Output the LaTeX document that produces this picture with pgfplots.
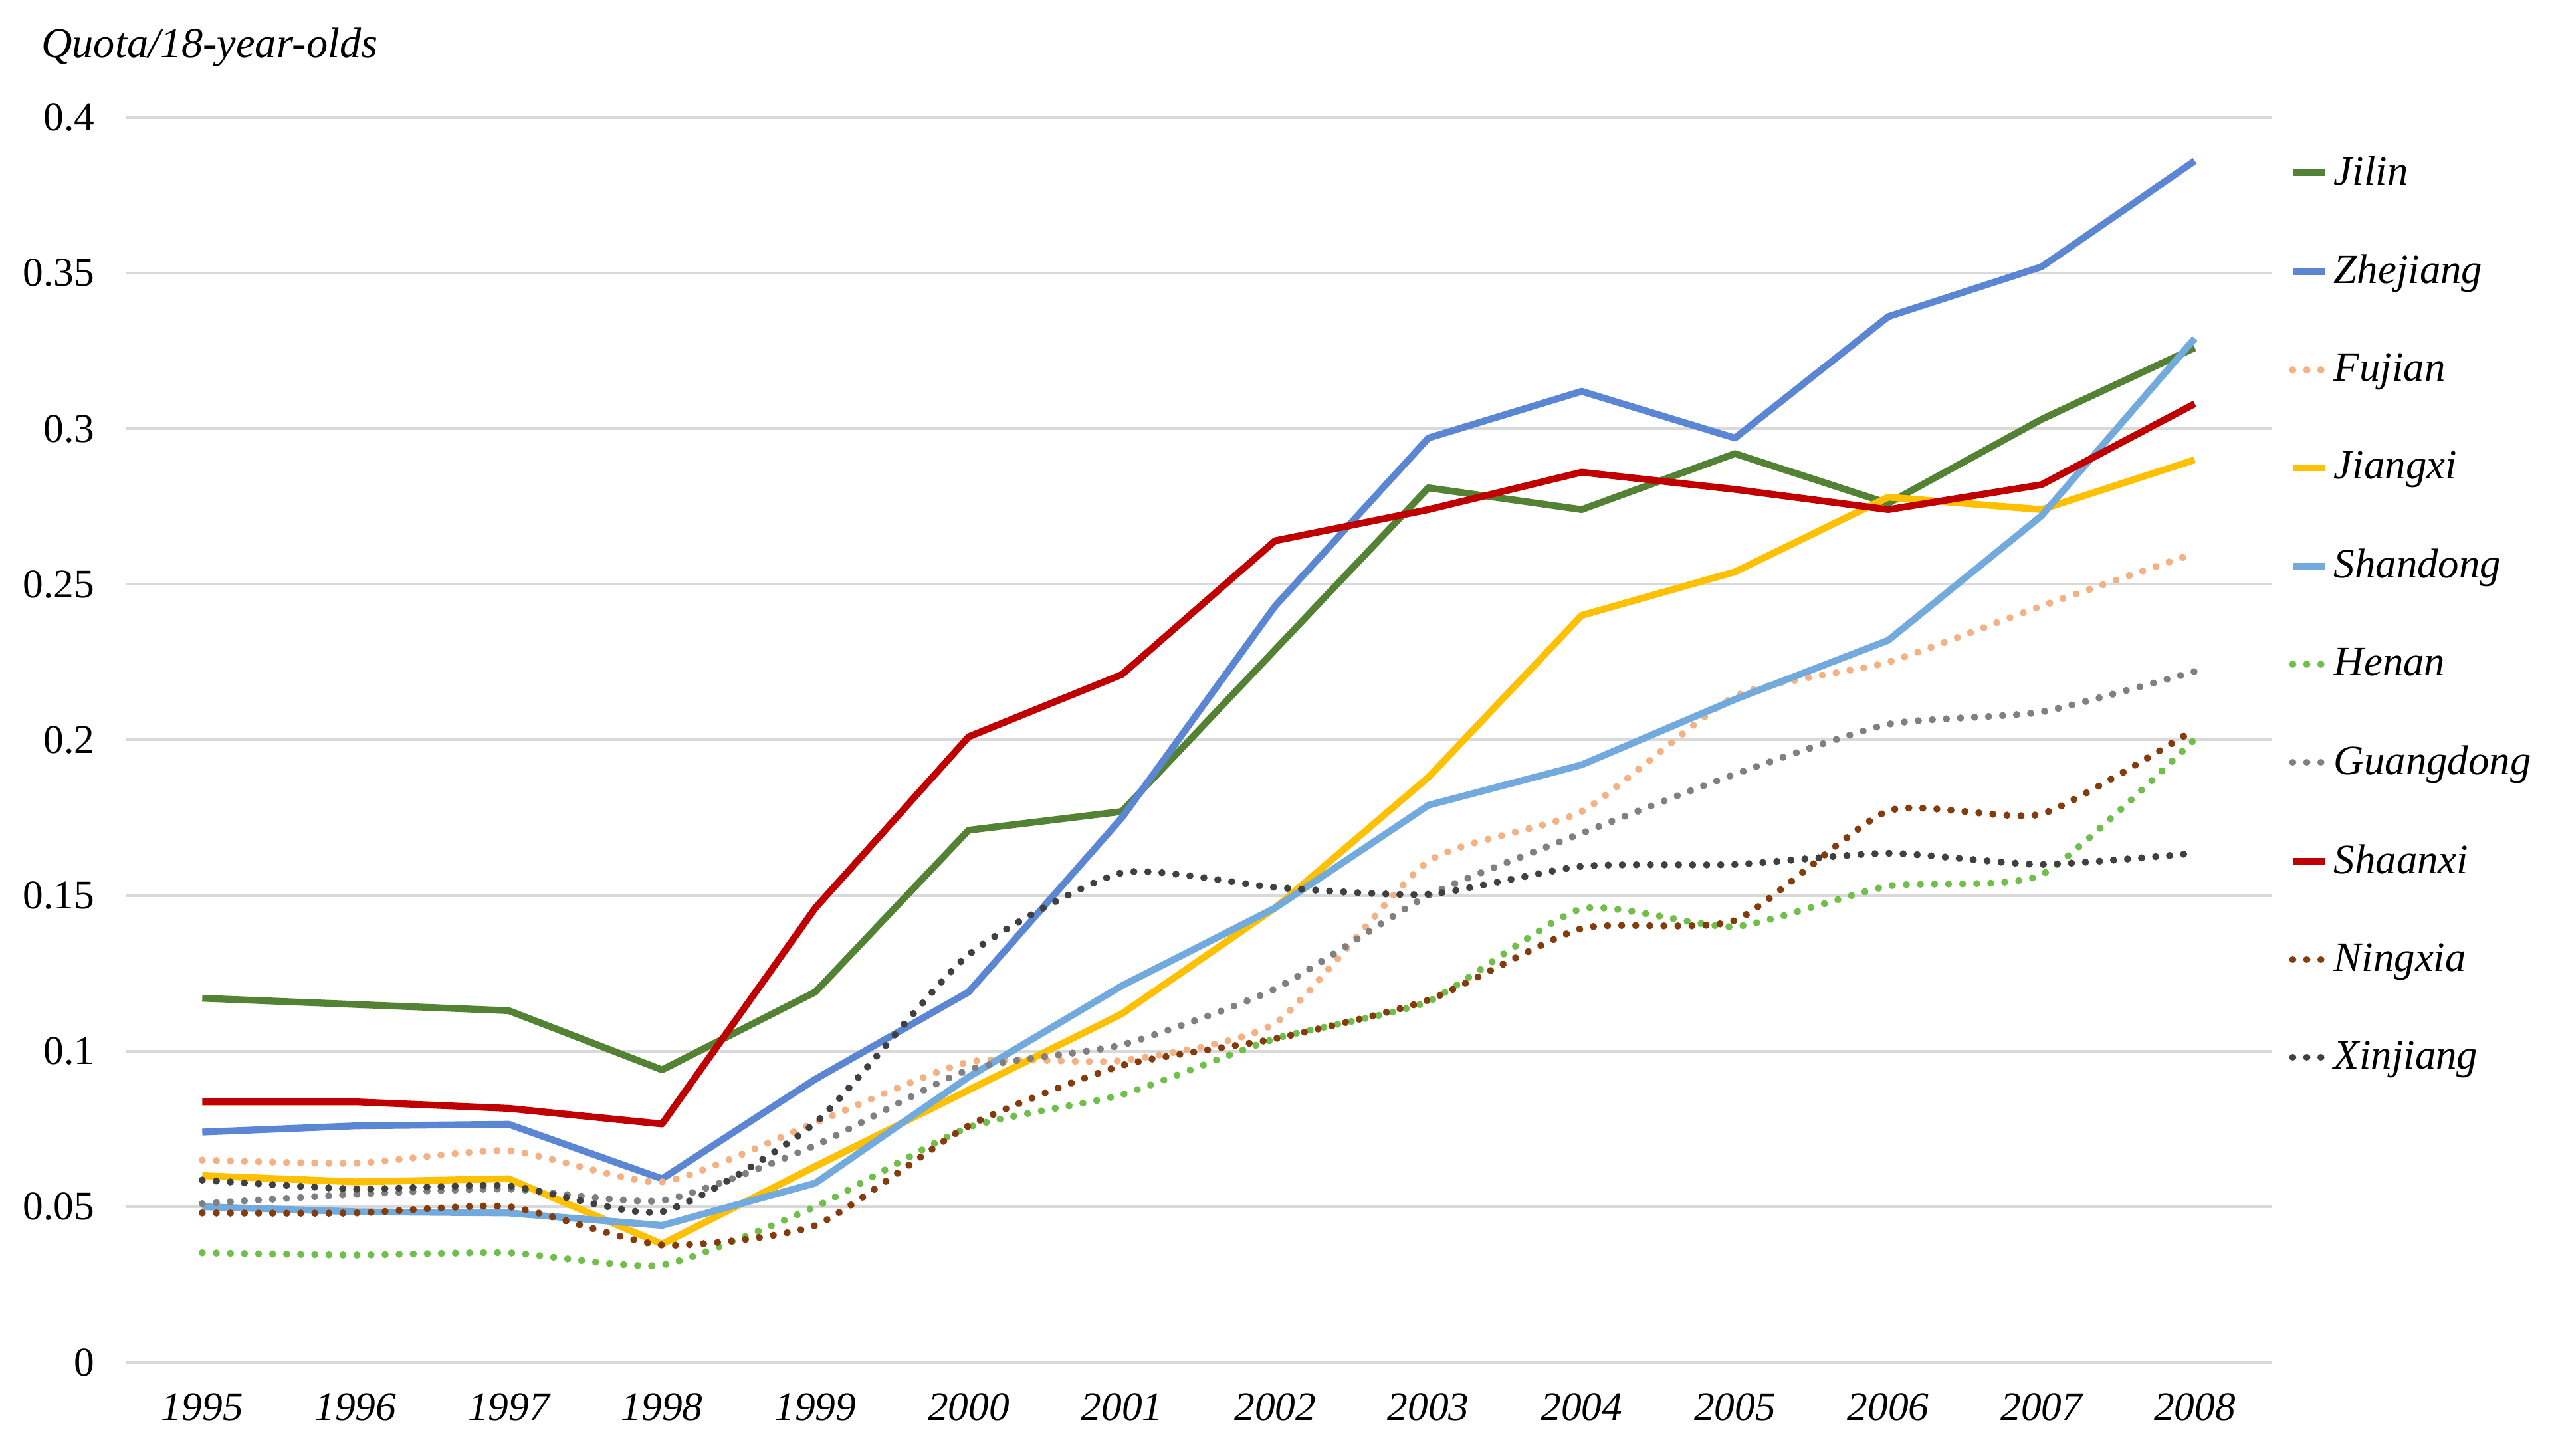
\documentclass[border=0pt]{standalone}
\usepackage{fontspec}
\setmainfont{Liberation Serif}
\usepackage{pgfplots}
\pgfplotsset{compat=1.18}

\definecolor{cJilin}{HTML}{548235}
\definecolor{cZhejiang}{HTML}{5B86D3}
\definecolor{cFujian}{HTML}{F4B183}
\definecolor{cJiangxi}{HTML}{FFC000}
\definecolor{cShandong}{HTML}{72AADD}
\definecolor{cHenan}{HTML}{70BF4A}
\definecolor{cGuangdong}{HTML}{808080}
\definecolor{cShaanxi}{HTML}{C00000}
\definecolor{cNingxia}{HTML}{843C0C}
\definecolor{cXinjiang}{HTML}{404040}
\newcommand{\chartfont}{\fontsize{12.5}{15}\selectfont}

\begin{document}
\begin{tikzpicture}
\begin{axis}[
  name=ax,
  scale only axis,
  width=657.5pt, height=381.5pt,
  xmin=1994.5, xmax=2008.5, ymin=0, ymax=0.4,
  xtick={1995,1996,...,2008},
  xticklabels={1995,1996,1997,1998,1999,2000,2001,2002,2003,2004,2005,2006,2007,2008},
  ytick={0,0.05,0.1,0.15,0.2,0.25,0.3,0.35,0.4},
  yticklabels={0,0.05,0.1,0.15,0.2,0.25,0.3,0.35,0.4},
  xticklabel style={font=\chartfont\itshape, yshift=-6pt},
  yticklabel style={font=\chartfont, xshift=-6pt},
  axis line style={draw=none},
  tick style={draw=none},
  ymajorgrids,
  major grid style={color=black!15, line width=0.8pt},
  legend style={draw=none, fill=none, font=\fontsize{12.8}{15}\selectfont\itshape,
    at={(1.008,0.975)}, anchor=north west, row sep=15.95pt, inner sep=0pt,
    nodes={inner xsep=1.5pt}},
  legend cell align=left,
  legend image code/.code={\draw[#1] (0pt,0pt) -- (10pt,0pt);},
  solid line/.style={line width=2.1pt, line join=round},
  dot line/.style={line width=2.2pt, line cap=round, dash pattern=on 0.01pt off 4.3pt, smooth, tension=0.35},
]
% Jilin
\addplot[solid line, cJilin] coordinates {
 (1995,0.117) (1996,0.115) (1997,0.113) (1998,0.094) (1999,0.119) (2000,0.171) (2001,0.177)
 (2002,0.229) (2003,0.281) (2004,0.274) (2005,0.292) (2006,0.276) (2007,0.303) (2008,0.326)};
% Zhejiang
\addplot[solid line, cZhejiang] coordinates {
 (1995,0.074) (1996,0.076) (1997,0.0765) (1998,0.059) (1999,0.091) (2000,0.119) (2001,0.175)
 (2002,0.243) (2003,0.297) (2004,0.312) (2005,0.297) (2006,0.336) (2007,0.352) (2008,0.386)};
% Fujian
\addplot[dot line, cFujian] coordinates {
 (1995,0.065) (1996,0.064) (1997,0.068) (1998,0.058) (1999,0.077) (2000,0.0965) (2001,0.097)
 (2002,0.109) (2003,0.161) (2004,0.177) (2005,0.214) (2006,0.225) (2007,0.243) (2008,0.260)};
% Jiangxi
\addplot[solid line, cJiangxi] coordinates {
 (1995,0.060) (1996,0.058) (1997,0.059) (1998,0.038) (1999,0.063) (2000,0.0875) (2001,0.112)
 (2002,0.146) (2003,0.188) (2004,0.240) (2005,0.254) (2006,0.278) (2007,0.274) (2008,0.290)};
% Shandong
\addplot[solid line, cShandong] coordinates {
 (1995,0.050) (1996,0.0484) (1997,0.048) (1998,0.044) (1999,0.0576) (2000,0.0917) (2001,0.121)
 (2002,0.146) (2003,0.179) (2004,0.192) (2005,0.213) (2006,0.232) (2007,0.272) (2008,0.329)};
% Henan
\addplot[dot line, cHenan] coordinates {
 (1995,0.0352) (1996,0.0345) (1997,0.0352) (1998,0.0313) (1999,0.050) (2000,0.0755) (2001,0.086)
 (2002,0.104) (2003,0.116) (2004,0.1457) (2005,0.140) (2006,0.153) (2007,0.1567) (2008,0.2002)};
% Guangdong
\addplot[dot line, cGuangdong] coordinates {
 (1995,0.051) (1996,0.054) (1997,0.0557) (1998,0.052) (1999,0.0697) (2000,0.094) (2001,0.102)
 (2002,0.120) (2003,0.150) (2004,0.170) (2005,0.189) (2006,0.205) (2007,0.209) (2008,0.222)};
% Shaanxi
\addplot[solid line, cShaanxi] coordinates {
 (1995,0.0837) (1996,0.0837) (1997,0.0816) (1998,0.0766) (1999,0.146) (2000,0.201) (2001,0.221)
 (2002,0.264) (2003,0.274) (2004,0.286) (2005,0.2805) (2006,0.274) (2007,0.282) (2008,0.308)};
% Ningxia
\addplot[dot line, cNingxia] coordinates {
 (1995,0.048) (1996,0.048) (1997,0.050) (1998,0.0377) (1999,0.0440) (2000,0.076) (2001,0.0954)
 (2002,0.104) (2003,0.1164) (2004,0.1394) (2005,0.142) (2006,0.1772) (2007,0.1762) (2008,0.2034)};
% Xinjiang
\addplot[dot line, cXinjiang] coordinates {
 (1995,0.0586) (1996,0.0557) (1997,0.0567) (1998,0.0484) (1999,0.077) (2000,0.131) (2001,0.1573)
 (2002,0.1526) (2003,0.1504) (2004,0.1594) (2005,0.160) (2006,0.1636) (2007,0.160) (2008,0.1636)};
\legend{Jilin,Zhejiang,Fujian,Jiangxi,Shandong,Henan,Guangdong,Shaanxi,Ningxia,Xinjiang}
\end{axis}
\node[anchor=west, inner sep=0pt, font=\fontsize{13.1}{15}\selectfont\itshape] at ([xshift=-26pt, yshift=21.5pt]ax.north west) {Quota/18-year-olds};
\pgfresetboundingbox
\path[use as bounding box] (-38.5pt,-28.5pt) rectangle (743.5pt,417.5pt);
\end{tikzpicture}
\end{document}
